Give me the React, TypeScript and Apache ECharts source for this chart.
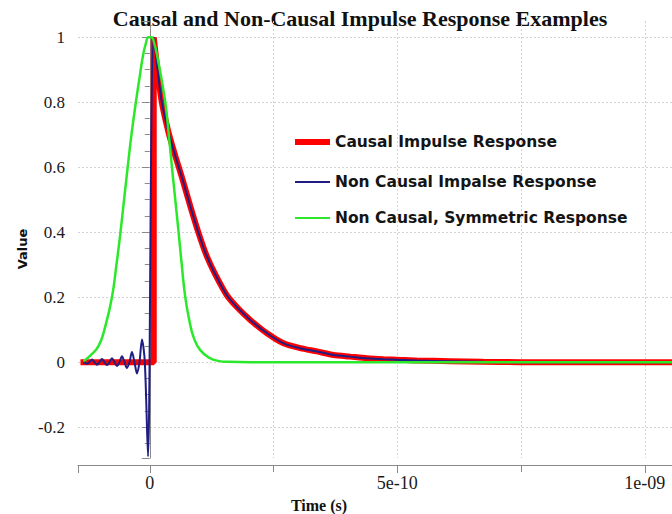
import React, { useEffect, useRef } from "react";
import * as echarts from "echarts";

// Time values are in units of 1e-10 s (converted to seconds when building series)
const causalTime = [-1.4, 0.08, 0.08, 0.232, 0.374, 0.515, 0.657, 0.818, 0.98, 1.141, 1.323, 1.56, 1.788, 2.03, 2.368, 2.703, 3.04, 3.378, 3.713, 4.051, 4.388, 4.723, 5.061, 5.398, 6.071, 6.737, 7.485, 10.55];
const causalValue = [0, 0, 1.0, 0.81, 0.71, 0.635, 0.565, 0.48, 0.4, 0.33, 0.27, 0.205, 0.165, 0.13, 0.089, 0.058, 0.043, 0.033, 0.022, 0.017, 0.012, 0.009, 0.007, 0.005, 0.003, 0.001, 0, 0];

const nonCausalTime = [-1.343, -1.27, -1.22, -1.168, -1.117, -1.067, -1.016, -0.966, -0.915, -0.865, -0.814, -0.764, -0.713, -0.663, -0.612, -0.562, -0.511, -0.461, -0.41, -0.36, -0.309, -0.259, -0.208, -0.158, -0.1, -0.036, 0.08, 0.232, 0.374, 0.515, 0.657, 0.818, 0.98, 1.141, 1.323, 1.56, 1.788, 2.03, 2.368, 2.703, 3.04, 3.378, 3.713, 4.051, 4.388, 4.723, 5.061, 5.398, 6.071, 6.737, 7.485, 10.55];
const nonCausalValue = [0, -0.005, 0, 0.008, 0, -0.008, 0, 0.01, 0, -0.009, 0, 0.012, 0, -0.012, 0, 0.018, 0, -0.018, 0, 0.031, 0, -0.035, 0, 0.07, 0, -0.29, 1.0, 0.81, 0.71, 0.635, 0.565, 0.48, 0.4, 0.33, 0.27, 0.205, 0.165, 0.13, 0.089, 0.058, 0.043, 0.033, 0.022, 0.017, 0.012, 0.009, 0.007, 0.005, 0.003, 0.001, 0, 0];

const symmetricTime = [-1.34, -1.202, -1.034, -0.899, -0.764, -0.673, -0.592, -0.519, -0.446, -0.37, -0.281, -0.202, -0.141, -0.081, -0.024, 0.03, 0.077, 0.178, 0.313, 0.384, 0.448, 0.515, 0.582, 0.646, 0.717, 0.798, 0.885, 1.02, 1.222, 1.384, 1.56, 2.03, 10.55];
const symmetricValue = [0.003, 0.02, 0.05, 0.11, 0.2, 0.3, 0.4, 0.5, 0.6, 0.7, 0.8, 0.88, 0.94, 0.98, 1.0, 1.0, 0.99, 0.92, 0.8, 0.7, 0.6, 0.5, 0.4, 0.3, 0.2, 0.13, 0.077, 0.037, 0.012, 0.004, 0.001, 0, 0];

const seriesNames = ["Causal Impulse Response", "Non Causal Impalse Response", "Non Causal, Symmetric Response"];
const titleText = "Causal and Non-Causal Impulse Response Examples";
const xAxisTitle = "Time (s)";
const yAxisTitle = "Value";

const UNIT = 1e-10;
const pairs = (t: number[], v: number[]) => t.map((x, i) => [x * UNIT, v[i]]);

function formatTime(v: number): string {
  if (Math.abs(v) < 1e-20) return "0";
  const s = v.toExponential();
  const [m, e] = s.split("e");
  const neg = e[0] === "-";
  const digits = e.replace(/^[-+]/, "").padStart(2, "0");
  const mant = parseFloat(Number(m).toPrecision(6));
  return `${mant}e${neg ? "-" : ""}${digits}`;
}

export default function App() {
  const ref = useRef<HTMLDivElement>(null);
  useEffect(() => {
    if (!ref.current) return;
    const chart = echarts.init(ref.current, undefined, { renderer: "svg" });
    const gridStyle = { color: "#d2d2d2", type: [2, 2] as any, width: 1 };
    const axisColor = "#8a8a8a";
    const labelFont = { fontFamily: "Liberation Serif", fontSize: 17, color: "#1a1a1a" };
    const legendText = { fontFamily: "DejaVu Sans", fontWeight: "bold" as const, fontSize: 15.5, color: "#141414", lineHeight: 18 };
    const mkLegend = (name: string, top: number, h: number) => ({
      data: [name],
      left: 295,
      top,
      padding: 0,
      icon: "rect",
      itemWidth: 35,
      itemHeight: h,
      selectedMode: false,
      textStyle: legendText,
    });
    chart.setOption({
      animation: false,
      backgroundColor: "#ffffff",
      grid: { left: 78, right: 0, top: 21, bottom: 56, outerBoundsMode: "none" },
      xAxis: {
        type: "value",
        min: -1.45e-10,
        max: 10.55e-10,
        splitNumber: 2,
        offset: 7,
        axisLine: { show: true, onZero: false, lineStyle: { color: axisColor, width: 1 } },
        axisTick: { show: true, length: 8, lineStyle: { color: axisColor } },
        minorTick: { show: true, splitNumber: 2, length: 7, lineStyle: { color: axisColor } },
        axisLabel: { ...labelFont, fontSize: 18, margin: 9, showMinLabel: false, showMaxLabel: false, formatter: (v: number) => formatTime(v) },
        splitLine: { show: true, lineStyle: gridStyle, showMinLine: false, showMaxLine: false },
        minorSplitLine: { show: true, lineStyle: gridStyle },
      },
      yAxis: {
        type: "value",
        min: -0.295,
        max: 1.05,
        splitNumber: 7,
        axisLine: { show: true, lineStyle: { color: axisColor, width: 1 } },
        axisTick: { show: true, length: 8, lineStyle: { color: axisColor } },
        minorTick: { show: true, splitNumber: 4, length: 5, lineStyle: { color: axisColor } },
        axisLabel: { ...labelFont, margin: 13, showMinLabel: false, showMaxLabel: false },
        splitLine: { show: true, lineStyle: gridStyle, showMinLine: false, showMaxLine: false },
      },
      legend: [mkLegend(seriesNames[0], 133, 6), mkLegend(seriesNames[1], 173, 2), mkLegend(seriesNames[2], 209, 2)],
      series: [
        {
          name: seriesNames[0],
          type: "line",
          data: pairs(causalTime, causalValue),
          showSymbol: false,
          symbol: "none",
          smooth: 0.25,
          color: "#ff0000",
          lineStyle: { color: "#ff0000", width: 6 },
          z: 2,
        },
        {
          name: seriesNames[1],
          type: "line",
          data: pairs(nonCausalTime, nonCausalValue),
          showSymbol: false,
          symbol: "none",
          smooth: 0.3,
          color: "#1e1e84",
          lineStyle: { color: "#1e1e84", width: 2 },
          z: 3,
        },
        {
          name: seriesNames[2],
          type: "line",
          data: pairs(symmetricTime, symmetricValue),
          showSymbol: false,
          symbol: "none",
          smooth: 0.5,
          color: "#2be82b",
          lineStyle: { color: "#2be82b", width: 2.5 },
          z: 4,
        },
      ],
      graphic: [
        {
          type: "text",
          x: 360,
          y: 18,
          style: { text: titleText, font: 'bold 22px "Liberation Serif"', fill: "#111111", align: "center", verticalAlign: "middle", textAlign: "center", textVerticalAlign: "middle" },
        },
        {
          type: "text",
          x: 319,
          y: 505,
          style: { text: xAxisTitle, font: 'bold 16px "Liberation Serif"', fill: "#111111", align: "center", verticalAlign: "middle", textAlign: "center", textVerticalAlign: "middle" },
        },
        {
          type: "text",
          x: 22,
          y: 249,
          rotation: Math.PI / 2,
          style: { text: yAxisTitle, font: 'bold 13px "DejaVu Sans"', fill: "#111111", align: "center", verticalAlign: "middle", textAlign: "center", textVerticalAlign: "middle" },
        },
      ],
    });
    return () => chart.dispose();
  }, []);
  return <div ref={ref} style={{ position: "fixed", left: 0, top: 0, width: 672, height: 514, background: "#fff" }} />;
}
